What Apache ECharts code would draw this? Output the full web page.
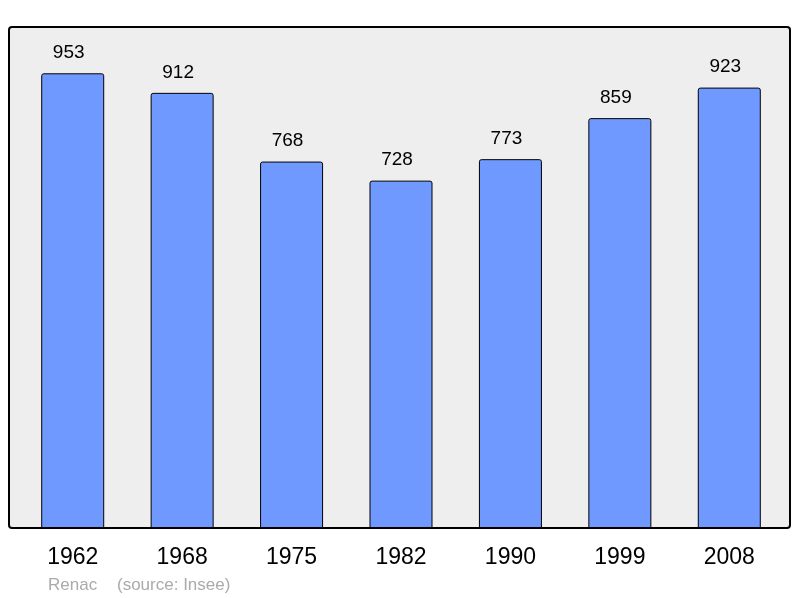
<!DOCTYPE html>
<html>
<head>
<meta charset="utf-8">
<script src="https://cdn.jsdelivr.net/npm/echarts@6/dist/echarts.min.js"></script>
<style>
  html, body { margin: 0; padding: 0; background: #fff; }
  #chart { width: 800px; height: 598px; }
</style>
</head>
<body>
<div id="chart"></div>
<script>
// 年份与人口
var years = ["1962", "1968", "1975", "1982", "1990", "1999", "2008"];
var population = [953, 912, 768, 728, 773, 859, 923];

var myChart = echarts.init(document.getElementById('chart'));

var option = {
  animation: false,
  // 底部说明文字
  title: [
    {
      text: 'Renac',
      left: 48,
      top: 577,
      textStyle: { fontFamily: 'Liberation Sans', fontSize: 17, fontWeight: 'normal', color: '#aaaaaa' },
      padding: 0
    },
    {
      text: '(source: Insee)',
      left: 117,
      top: 577,
      textStyle: { fontFamily: 'Liberation Sans', fontSize: 17, fontWeight: 'normal', color: '#aaaaaa' },
      padding: 0
    }
  ],
  // 灰色背景框
  graphic: [
    {
      type: 'rect',
      z: -10,
      shape: { x: 9, y: 27, width: 781, height: 501, r: 3 },
      style: { fill: '#eeeeee', stroke: '#000', lineWidth: 2 }
    }
  ],
  grid: {
    left: 18,
    right: 16,
    top: 27,
    bottom: 70
  },
  xAxis: {
    type: 'category',
    data: years,
    axisLine: { show: false },
    axisTick: { show: false },
    axisLabel: {
      margin: 18,
      fontFamily: 'Liberation Sans',
      fontSize: 23,
      color: '#000'
    }
  },
  yAxis: {
    type: 'value',
    min: 0,
    max: 1050,
    show: false,
    splitLine: { show: false }
  },
  series: [
    {
      type: 'bar',
      data: population,
      barWidth: 63,
      itemStyle: {
        color: '#7099ff',
        borderColor: '#000',
        borderWidth: 1,
        borderRadius: [2, 2, 0, 0]
      },
      label: {
        show: true,
        position: 'top',
        distance: 11,
        offset: [-4, 0],
        fontFamily: 'Liberation Sans',
        fontSize: 19,
        color: '#000'
      }
    }
  ]
};

myChart.setOption(option);
</script>
</body>
</html>
